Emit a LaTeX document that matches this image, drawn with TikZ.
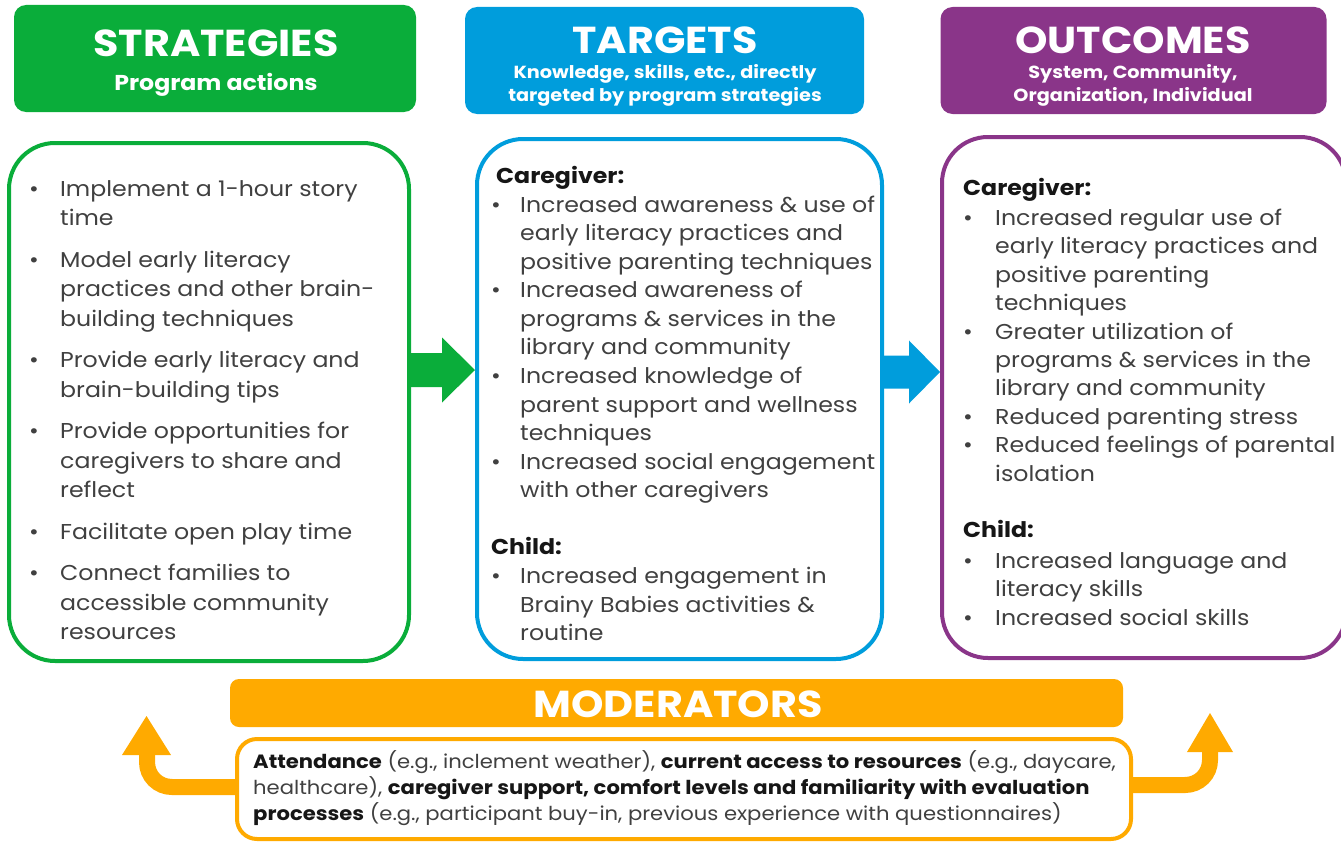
\documentclass[tikz,border=0pt]{standalone}
\usepackage{fontspec}
\setmainfont{Poppins}[FakeStretch=1.1]
\usetikzlibrary{calc}

\definecolor{sgreen}{HTML}{0AAD3A}
\definecolor{tblue}{HTML}{009DDC}
\definecolor{opurple}{HTML}{8A3589}
\definecolor{morange}{HTML}{FFAA00}
\definecolor{bodygray}{HTML}{404040}
\definecolor{ink}{HTML}{161616}

\newcommand\bl{\textbullet}
\newcommand\lbl[1]{\textcolor{ink}{\bfseries #1}}

\tikzset{
  headbox/.style={fill=#1, draw=none, rounded corners=12pt, inner sep=0pt},
  panel/.style={draw=#1, line width=4pt, fill=white, rounded corners=46pt, inner sep=0pt},
  titletext/.style={text=white, font=\fontsize{37.5}{37.5}\selectfont\bfseries, anchor=base, inner sep=0pt},
  subtext/.style={text=white, font=\fontsize{17.5}{23}\selectfont\bfseries, anchor=base, inner sep=0pt},
  listtext/.style={anchor=base west, inner sep=0pt, text=bodygray},
  blockarrow/.style={fill=#1, draw=none},
  curvedshaft/.style={draw=morange, line width=16pt},
}

\begin{document}
\begin{tikzpicture}[x=1pt, y=-1pt]
\useasboundingbox (0,0) rectangle (1341,843);

% column headers
\node[headbox=sgreen, minimum width=402pt, minimum height=107pt] (hstrat) at (215,58.5) {};
\node[headbox=tblue, minimum width=399pt, minimum height=107pt] (htarg) at (664.5,60.5) {};
\node[headbox=opurple, minimum width=386pt, minimum height=107pt] (hout) at (1133.5,60.5) {};

\node[titletext] (tstrat) at (216,57) {STRATEGIES};
\node[subtext, font=\fontsize{21.5}{23}\selectfont\bfseries] (sstrat) at (216,90) {Program actions};
\node[titletext] (ttarg) at (665,53) {TARGETS};
\node[subtext] (starg) at (665,78) {\begin{tabular}[t]{@{}c@{}}Knowledge, skills, etc., directly\\ targeted by program strategies\end{tabular}};
\node[titletext] (tout) at (1133,54) {OUTCOMES};
\node[subtext] (sout) at (1133,78) {\begin{tabular}[t]{@{}c@{}}System, Community,\\ Organization, Individual\end{tabular}};

% panels
\node[panel=sgreen, minimum width=400pt, minimum height=518pt] (strat) at (209,402) {};
\node[panel=tblue, minimum width=405pt, minimum height=520pt] (targ) at (679.5,399) {};
\node[panel=opurple, minimum width=404pt, minimum height=521pt] (out) at (1144,397.5) {};

% block arrows between panels
\coordinate (ga) at (strat.east |- 0,370);
\coordinate (gb) at (targ.west |- 0,370);
\fill[blockarrow=sgreen] ($(ga)+(-2,-17)$) -- ($(gb)+(-33,-17)$) -- ($(gb)+(-33,-32.5)$) -- (gb)
  -- ($(gb)+(-33,32.5)$) -- ($(gb)+(-33,17)$) -- ($(ga)+(-2,17)$) -- cycle;
\coordinate (ba) at (targ.east |- 0,372);
\coordinate (bb) at (out.west |- 0,372);
\fill[blockarrow=tblue] ($(ba)+(-2,-16.5)$) -- ($(bb)+(-31,-16.5)$) -- ($(bb)+(-31,-31.5)$) -- (bb)
  -- ($(bb)+(-31,31.5)$) -- ($(bb)+(-31,16.5)$) -- ($(ba)+(-2,16.5)$) -- cycle;

% strategies list
\node[listtext, font=\fontsize{21.5}{29.5}\selectfont] (lstrat) at (29,196) {%
\begin{tabular}[t]{@{}p{31pt}@{}l@{}}
\bl & Implement a 1-hour story\\
    & time\\[12pt]
\bl & Model early literacy\\
    & practices and other brain-\\
    & building techniques\\[12pt]
\bl & Provide early literacy and\\
    & brain-building tips\\[12pt]
\bl & Provide opportunities for\\
    & caregivers to share and\\
    & reflect\\[12pt]
\bl & Facilitate open play time\\[12pt]
\bl & Connect families to\\
    & accessible community\\
    & resources
\end{tabular}};

% targets list
\node[listtext, font=\fontsize{21.5}{28.4}\selectfont] (ltarg) at (491,183) {%
\begin{tabular}[t]{@{}p{29pt}@{}l@{}}
\multicolumn{2}{@{}l@{}}{\hspace{5pt}\lbl{Caregiver:}}\\[1pt]
\bl & Increased awareness \& use of\\
    & early literacy practices and\\
    & positive parenting techniques\\
\bl & Increased awareness of\\
    & programs \& services in the\\
    & library and community\\[1pt]
\bl & Increased knowledge of\\
    & parent support and wellness\\
    & techniques\\
\bl & Increased social engagement\\
    & with other caregivers\\
    & \\
\multicolumn{2}{@{}l@{}}{\lbl{Child:}}\\[1pt]
\bl & Increased engagement in\\
    & Brainy Babies activities \&\\
    & routine
\end{tabular}};

% outcomes list
\node[listtext, font=\fontsize{21.5}{28.4}\selectfont] (lout) at (963,195) {%
\begin{tabular}[t]{@{}p{32pt}@{}l@{}}
\multicolumn{2}{@{}l@{}}{\lbl{Caregiver:}}\\[2pt]
\bl & Increased regular use of\\
    & early literacy practices and\\
    & positive parenting\\
    & techniques\\
\bl & Greater utilization of\\
    & programs \& services in the\\
    & library and community\\
\bl & Reduced parenting stress\\
\bl & Reduced feelings of parental\\
    & isolation\\
    & \\
\multicolumn{2}{@{}l@{}}{\lbl{Child:}}\\[2pt]
\bl & Increased language and\\
    & literacy skills\\
\bl & Increased social skills
\end{tabular}};

% moderators
\node[headbox=morange, rounded corners=9pt, minimum width=893pt, minimum height=48pt] (hmod) at (676.5,703) {};
\node[titletext] (tmod) at (678,717) {MODERATORS};
\node[panel=morange, rounded corners=20pt, minimum width=894pt, minimum height=100pt] (mod) at (684,789) {};
\node[listtext, font=\fontsize{19.2}{26}\selectfont] (lmod) at (253,768) {%
\begin{tabular}[t]{@{}l@{}}
\lbl{Attendance} (e.g., inclement weather), \lbl{current access to resources} (e.g., daycare,\\
healthcare), \lbl{caregiver support, comfort levels and familiarity with evaluation}\\
\lbl{processes} (e.g., participant buy-in, previous experience with questionnaires)
\end{tabular}};

% feedback arrows out of the moderators box
\coordinate (la) at (mod.west |- 0,787);
\draw[curvedshaft] (la) -- (172,787) .. controls (158,787) and (147,776) .. (147,762) -- (147,754);
\fill[morange] (122,755) -- (171,755) -- (146.5,716) -- cycle;
\coordinate (ra) at (mod.east |- 0,785);
\draw[curvedshaft] (ra) -- (1185,785) .. controls (1199,785) and (1210,774) .. (1210,760) -- (1210,751);
\fill[morange] (1187,752) -- (1233,752) -- (1210,713) -- cycle;
\end{tikzpicture}
\end{document}
